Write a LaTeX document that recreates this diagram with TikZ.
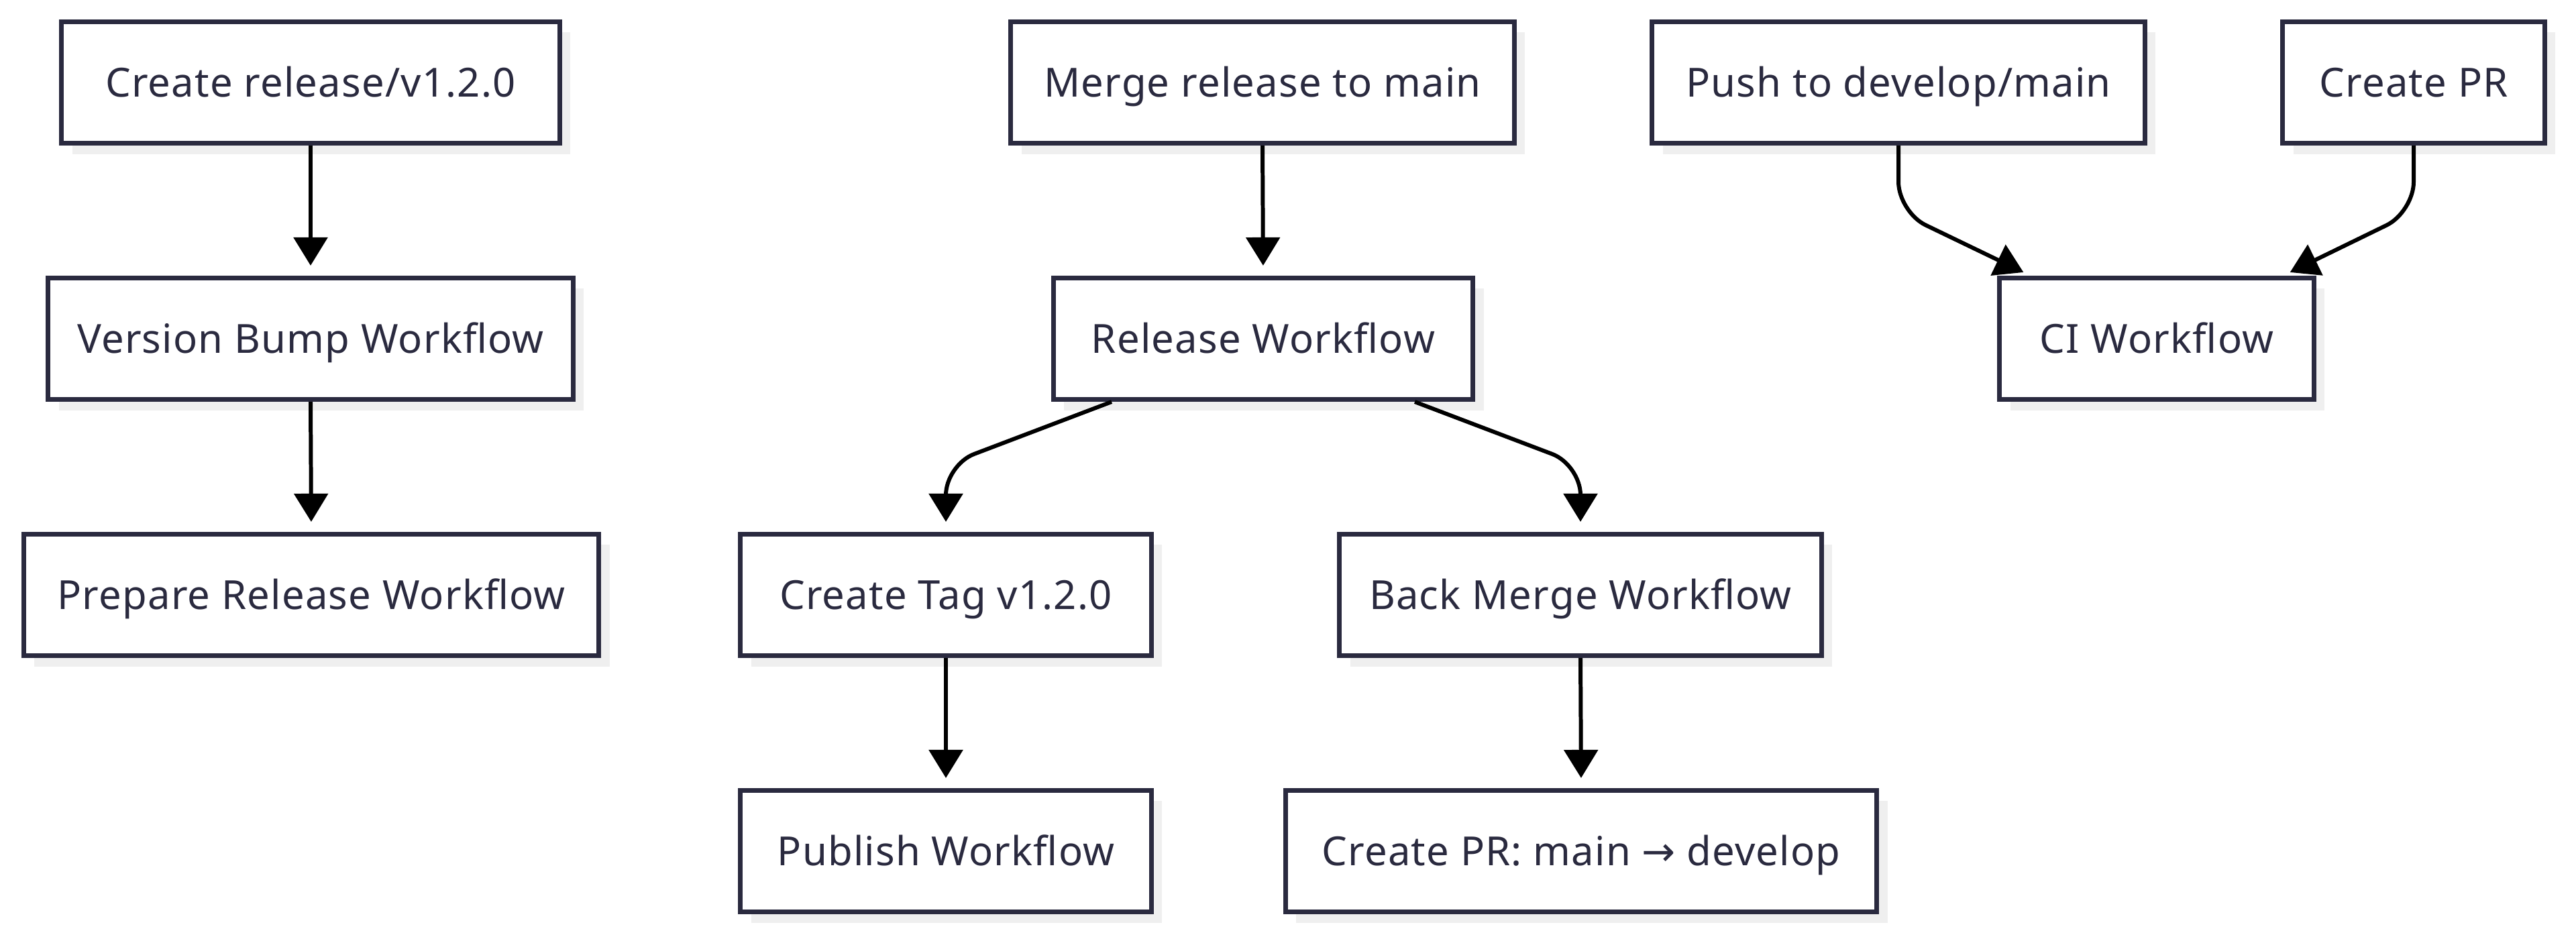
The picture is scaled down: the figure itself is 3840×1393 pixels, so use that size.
\documentclass[tikz,border=0pt]{standalone}
\usepackage{fontspec}
\setmainfont[LetterSpace=2.0]{Noto Sans}
\newfontfamily\arrowfont{DejaVu Sans}
\usetikzlibrary{arrows.meta,calc,shadows}
\definecolor{boxline}{HTML}{2A2A3F}
\definecolor{boxtext}{HTML}{2A2A3F}
\definecolor{shadowgray}{HTML}{EFEFEF}
\tikzset{
  wfbox/.style={draw=boxline, line width=2pt, fill=white, text=boxtext,
    minimum height=1.81cm, inner sep=0pt, text height=12.1pt, text depth=0pt,
    font=\fontsize{17}{20}\selectfont,
    drop shadow={shadow xshift=0.16cm, shadow yshift=-0.16cm, fill=shadowgray, opacity=1}},
  arr/.style={line width=1.7pt, black, rounded corners=0.45cm,
    -{Triangle[length=0.42cm, width=0.5cm]}, shorten >=0.15cm}
}
\begin{document}
\begin{tikzpicture}[x=0.01cm,y=-0.01cm]
\useasboundingbox (0,0) rectangle (3840,1393);
% column 1
\node[wfbox, minimum width=7.42cm] (crel) at (463,123) {Create release/v1.2.0};
\node[wfbox, minimum width=7.82cm] (vbump) at (463,505) {Version Bump Workflow};
\node[wfbox, minimum width=8.57cm] (prep) at (464,887) {Prepare Release Workflow};
% column 2
\node[wfbox, minimum width=7.50cm] (merge) at (1882,123) {Merge release to main};
\node[wfbox, minimum width=6.25cm] (rel) at (1883,505) {Release Workflow};
\node[wfbox, minimum width=6.12cm] (tag) at (1410,887) {Create Tag v1.2.0};
\node[wfbox, minimum width=7.18cm] (back) at (2356,887) {Back Merge Workflow};
\node[wfbox, minimum width=6.12cm] (pub) at (1410,1269) {Publish Workflow};
\node[wfbox, minimum width=8.81cm] (cprmd) at (2357,1269) {Create PR: main {\arrowfont →} develop};
% column 3
\node[wfbox, minimum width=7.34cm] (push) at (2830,123) {Push to develop/main};
\node[wfbox, minimum width=3.90cm] (cpr) at (3598,123) {Create PR};
\node[wfbox, minimum width=4.68cm] (ci) at (3215,505) {CI Workflow};
% connectors
\draw[arr] (crel.south) -- (vbump.north);
\draw[arr] (vbump.south) -- (prep.north);
\draw[arr] (merge.south) -- (rel.north);
\draw[arr] ($(rel.south)+(-226,0)$) -- ($(tag.north)+(0,-100)$) -- (tag.north);
\draw[arr] ($(rel.south)+(226,0)$) -- ($(back.north)+(0,-100)$) -- (back.north);
\draw[arr] (tag.south) -- (pub.north);
\draw[arr] (back.south) -- (cprmd.north);
\draw[arr, shorten >=0pt] (push.south) -- ($(push.south)+(0,99)$) -- ($(ci.north west)+(39,-5)$);
\draw[arr, shorten >=0pt] (cpr.south) -- ($(cpr.south)+(0,99)$) -- ($(ci.north east)+(-39,-5)$);
\end{tikzpicture}
\end{document}
